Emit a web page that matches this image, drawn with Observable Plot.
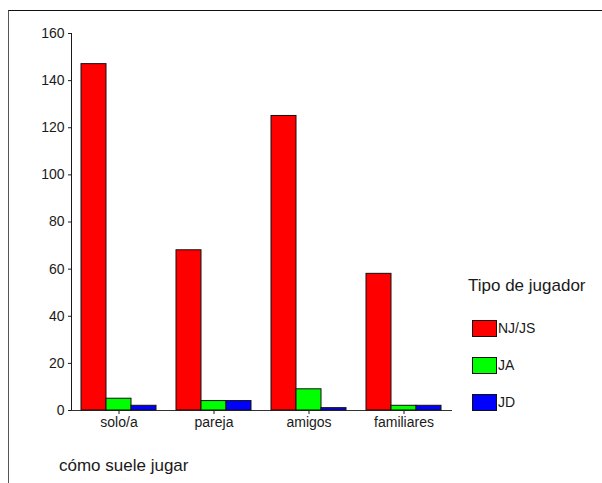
<!DOCTYPE html>
<html><head><meta charset="utf-8">
<script src="https://cdn.jsdelivr.net/npm/d3@7"></script>
<script src="https://cdn.jsdelivr.net/npm/@observablehq/plot@0.6"></script>
<style>
body{margin:0;background:#fff;font-family:Arial,"Liberation Sans",sans-serif;color:#1a1a1a;}
#wrap{position:relative;width:602px;height:483px;overflow:hidden;background:#fff;}
#frame{position:absolute;left:8px;top:10px;width:700px;height:600px;border-top:1px solid #111;border-left:1px solid #555;box-sizing:border-box;}
#chart{position:absolute;left:0;top:0;}
#xtitle{position:absolute;left:59px;top:456px;font-size:17px;line-height:20px;white-space:nowrap;}
#legend{position:absolute;left:468px;top:275px;}
#legend .title{font-size:17px;line-height:22px;white-space:nowrap;margin-bottom:23px;}
#legend .item{position:relative;height:37px;margin-left:4px;}
#legend .sw{position:absolute;left:0;top:0;width:25px;height:17px;border:1px solid #111;box-sizing:border-box;}
#legend .lab{position:absolute;left:26px;top:0;font-size:14px;line-height:17px;white-space:nowrap;}
</style>
</head><body>
<div id="wrap">
  <div id="frame"></div>
  <div id="chart"></div>
  <div id="xtitle"></div>
  <div id="legend"></div>
</div>
<script>
const groups = ["solo/a", "pareja", "amigos", "familiares"];
const types = ["NJ/JS", "JA", "JD"];
const njjs = [147, 68, 125, 58];
const ja = [5, 4, 9, 2];
const jd = [2, 4, 1, 2];
const colors = ["#ff0000", "#00ff00", "#0000ff"];
const yTicks = [0, 20, 40, 60, 80, 100, 120, 140, 160];
const xTitle = "cómo suele jugar";
const legendTitle = "Tipo de jugador";

const series = [njjs, ja, jd];
const data = [];
groups.forEach((g, i) => types.forEach((t, j) => data.push({group: g, type: t, value: series[j][i]})));

const chart = Plot.plot({
  width: 602,
  height: 483,
  marginLeft: 60,
  marginTop: 33,
  marginBottom: 73,
  marginRight: 140,
  style: {fontFamily: "Arial, 'Liberation Sans', sans-serif", fontSize: "14px", color: "#1a1a1a", background: "transparent"},
  fx: {domain: groups, paddingInner: 0, paddingOuter: 0.111, label: null, axis: "bottom", tickSize: 4, tickPadding: 3},
  x: {domain: types, axis: null, paddingInner: 0, paddingOuter: 0.365},
  y: {domain: [0, 160], ticks: yTicks, label: null, tickSize: 3, tickPadding: 4, line: true},
  color: {domain: types, range: colors},
  marks: [
    Plot.frame({anchor: "bottom", facet: "super", stroke: "#333"}),
    Plot.barY(data, {fx: "group", x: "type", y: "value", fill: "type", stroke: "#111", strokeWidth: 1})
  ]
});
document.getElementById("chart").appendChild(chart);
document.getElementById("xtitle").textContent = xTitle;

const leg = document.getElementById("legend");
const t = document.createElement("div");
t.className = "title"; t.textContent = legendTitle; leg.appendChild(t);
types.forEach((ty, j) => {
  const it = document.createElement("div"); it.className = "item";
  const sw = document.createElement("div"); sw.className = "sw"; sw.style.background = colors[j];
  const lab = document.createElement("div"); lab.className = "lab"; lab.textContent = ty;
  it.appendChild(sw); it.appendChild(lab); leg.appendChild(it);
});
</script>
</body></html>
